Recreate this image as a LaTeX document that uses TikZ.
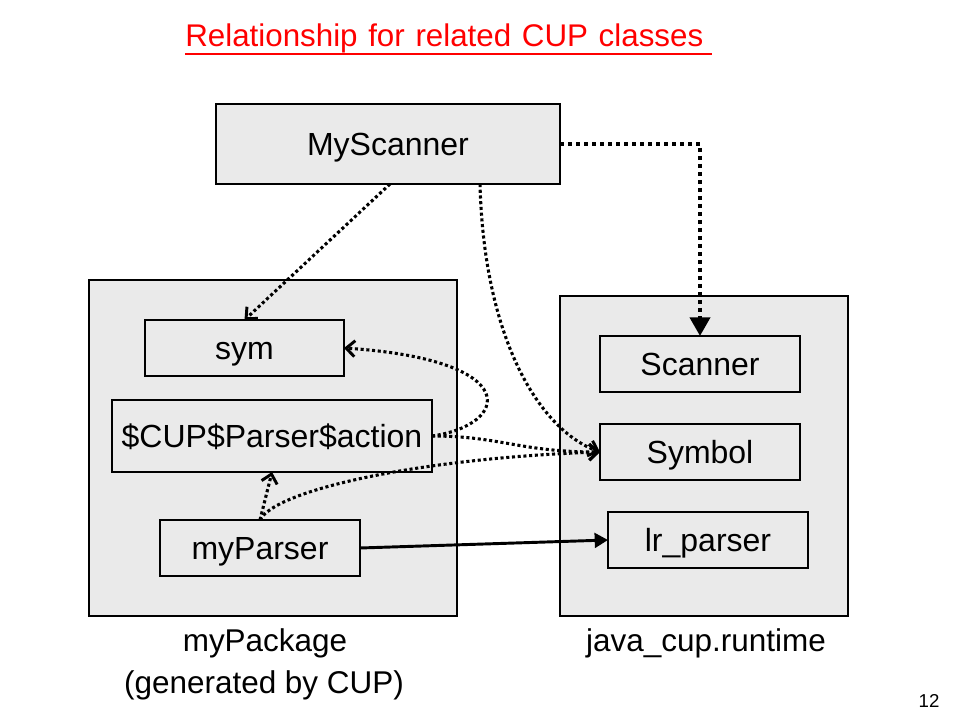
\documentclass[tikz,border=0pt]{standalone}
\usepackage{fontspec}
\setmainfont{Liberation Sans}
\usetikzlibrary{arrows.meta}
\definecolor{boxgray}{RGB}{234,234,234}
\definecolor{titlered}{RGB}{255,0,0}
\begin{document}
\begin{tikzpicture}[x=0.75pt,y=-0.75pt,
  box/.style={draw=black,fill=boxgray,line width=1pt,inner sep=0pt,outer sep=0pt,
    font=\fontsize{24}{28}\selectfont,text height=17.2pt,text depth=0pt},
  lbl/.style={inner sep=0pt,font=\fontsize{23.6}{27}\selectfont},
  dotarrow/.style={line width=2.3pt,dash pattern=on 2.3pt off 2pt,
    -{Straight Barb[length=6.5pt,width=12pt,line width=2.2pt]}},
  bigdot/.style={line width=3pt,dash pattern=on 3pt off 3pt,
    -{Triangle[length=14pt,width=15pt]}},
  solidarrow/.style={line width=2.2pt,-{Triangle[length=10pt,width=11pt]}}
]
\useasboundingbox (0,0) rectangle (960,720);
\fill[white] (0,0) rectangle (960,720);

% title
\node[anchor=base west,inner sep=0pt,text=titlered,font=\fontsize{23.5}{27}\selectfont]
  (title) at (185,47) {\makebox[388.5pt][s]{Relationship for related CUP classes}};
\draw[titlered,line width=1.5pt] ([yshift=-5.25pt]title.base west) -- ++(527,0);

% containers
\node[box,minimum width=276pt,minimum height=252pt] (pkg) at (273,448) {};
\node[box,minimum width=216pt,minimum height=240pt] (rt) at (704,456) {};

% boxes
\node[box,minimum width=258pt,minimum height=60pt] (scan) at (388,144) {MyScanner};
\node[box,minimum width=149.25pt,minimum height=42pt] (sym) at (244.5,348) {sym};
\node[box,minimum width=240pt,minimum height=54pt] (act) at (272,436) {\$CUP\$Parser\$action};
\node[box,minimum width=150pt,minimum height=42pt] (mypar) at (260,548) {myParser};
\node[box,minimum width=150pt,minimum height=42pt] (scanner) at (700,364) {Scanner};
\node[box,minimum width=150pt,minimum height=42pt] (symbol) at (700,452) {Symbol};
\node[box,minimum width=150pt,minimum height=42pt] (lrp) at (708,540) {lr\_parser};

% labels
\node[lbl,anchor=base] (lpkg) at (265,651) {myPackage};
\node[lbl,anchor=base] (lgen) at (264,693) {(generated by CUP)};
\node[lbl,anchor=base] (lrt) at (706,651) {java\_cup.runtime};
\node[inner sep=0pt,anchor=base,font=\fontsize{14}{16}\selectfont] (pnum) at (929,707) {12};

% connectors
\coordinate (corner) at (700,144);
\draw[bigdot] (scan.east) -- (corner) -- (scanner.north);
\draw[dotarrow] ([xshift=1.5pt]scan.south) -- (sym.north);
\draw[dotarrow] ([xshift=69pt]scan.south) .. controls (484,340) and (540,430) .. (symbol.west);
\draw[dotarrow] (act.east) .. controls (510,425) and (525,360) .. (sym.east);
\draw[dotarrow] (act.east) .. controls (500,436) and (520,452) .. (symbol.west);
\draw[dotarrow] (mypar.north) -- (act.south);
\draw[dotarrow] (mypar.north) .. controls (275,490) and (420,458) .. (symbol.west);
\draw[solidarrow] (mypar.east) -- (lrp.west);
\end{tikzpicture}
\end{document}
